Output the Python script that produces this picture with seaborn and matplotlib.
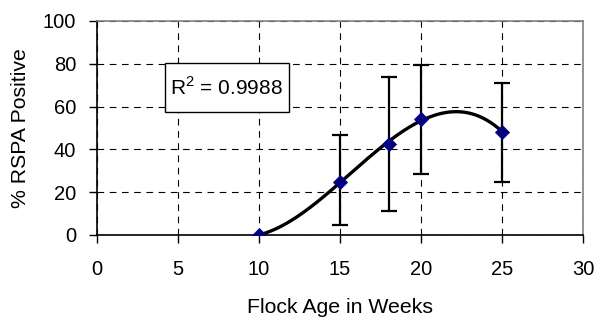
import numpy as np
import pandas as pd
import matplotlib
matplotlib.use("Agg")
import matplotlib.pyplot as plt
from matplotlib.patches import Rectangle
import seaborn as sns

# Data
weeks = [10, 15, 18, 20, 25]
positive = [0, 25, 42.5, 54.2, 48.3]
err_low = [0, 4.6, 11.1, 28.6, 24.9]
err_high = [0, 46.6, 73.7, 79.4, 70.9]
r2_text = "R$^2$ = 0.9988"
x_label = "Flock Age in Weeks"
y_label = "% RSPA Positive"

sns.set_theme(style="white")
plt.rcParams['font.family'] = ['Liberation Sans', 'DejaVu Sans']
plt.rcParams['mathtext.fontset'] = 'custom'
plt.rcParams['mathtext.rm'] = 'Liberation Sans'
plt.rcParams['text.color'] = 'black'
plt.rcParams['axes.labelcolor'] = 'black'
plt.rcParams['xtick.color'] = 'black'
plt.rcParams['ytick.color'] = 'black'

fig = plt.figure(figsize=(5.96, 3.22), dpi=100)
ax = fig.add_axes([97/596, 1 - 235/322, (583-97)/596, (235-21)/322])

df = pd.DataFrame({"week": weeks, "pos": positive,
                   "lo": err_low, "hi": err_high})

# polynomial (order 3) trendline
coef = np.polyfit(df["week"], df["pos"], 3)
xs = np.linspace(min(weeks), max(weeks), 200)
trend = pd.DataFrame({"week": xs, "pos": np.polyval(coef, xs)})
sns.lineplot(data=trend, x="week", y="pos", ax=ax, color="black", lw=2.4, zorder=3)

# error bars
eb = df[df["week"] != 10]
ax.errorbar(eb["week"], eb["pos"],
            yerr=[eb["pos"] - eb["lo"], eb["hi"] - eb["pos"]],
            fmt="none", ecolor="black", elinewidth=1.6, capsize=5.5, capthick=1.6, zorder=4)

sns.scatterplot(data=df, x="week", y="pos", ax=ax, marker="D", s=52,
                color="#000080", edgecolor="#000080", linewidth=0.5, zorder=5)

ax.set_xlim(0, 30)
ax.set_ylim(0, 100)
ax.set_xticks(range(0, 31, 5))
ax.set_yticks(range(0, 101, 20))
ax.grid(True, color="black", linestyle=(0, (6, 5)), linewidth=0.8)
ax.set_axisbelow(True)
for s in ["top", "right"]:
    ax.spines[s].set_color("#808080")
    ax.spines[s].set_linewidth(1.2)
for s in ["left", "bottom"]:
    ax.spines[s].set_color("black")
    ax.spines[s].set_linewidth(1.2)
ax.tick_params(axis="both", direction="out", length=6, width=1, color="black",
               labelsize=14.5, bottom=True, left=True)
ax.tick_params(axis="x", pad=12)
ax.tick_params(axis="y", pad=9)
ax.set_xlabel(x_label, fontsize=15.3, labelpad=14)
ax.set_ylabel(y_label, fontsize=15.3, labelpad=9)

# R² label box
ax.add_patch(Rectangle((4.2, 57.5), 7.65, 22.9, fc="white", ec="black", lw=1, zorder=6))
ax.text(8.0, 69.0, r2_text, fontsize=15, ha="center", va="center", zorder=7)

fig.savefig("out.png", dpi=100)
